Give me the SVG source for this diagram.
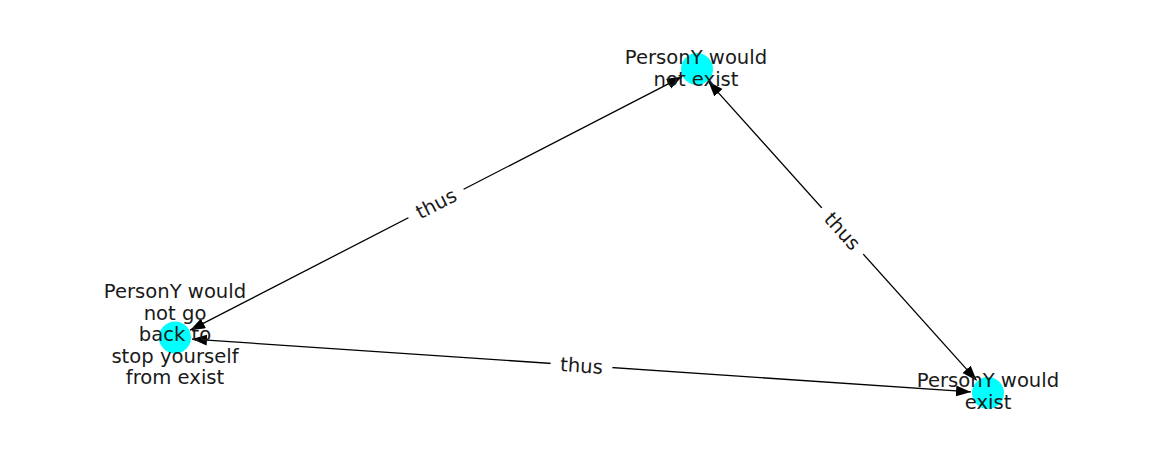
<svg xmlns="http://www.w3.org/2000/svg" width="1162" height="462" viewBox="0 0 1162 462">
  <style>
    .edge { stroke: #000; stroke-width: 1.3; fill: none; marker-start: url(#arrow); marker-end: url(#arrow); }
    .lbl-bg { fill: #fff; stroke: none; }
    .lbl { font-family: "DejaVu Sans", sans-serif; font-size: 19.6px; fill: #1a1a1a; text-anchor: middle; }
    .node circle { fill: #00ffff; }
    .node text { font-family: "DejaVu Sans", sans-serif; font-size: 19.6px; fill: #1a1a1a; text-anchor: middle; }
  </style>
  <defs>
    <marker id="arrow" markerWidth="16" markerHeight="12" refX="15" refY="5.5" orient="auto-start-reverse" markerUnits="userSpaceOnUse">
      <path d="M0,0 L15,5.5 L0,11 Z" fill="#000"/>
    </marker>
  </defs>
  <rect width="1162" height="462" fill="#fff"/>
  <g id="connectors">
    <line class="edge" x1="190.1" y1="330.2" x2="681.9" y2="76.8"/>
    <line class="edge" x1="708.4" y1="81.6" x2="976.6" y2="380.4"/>
    <line class="edge" x1="192.0" y1="339.1" x2="971.0" y2="391.9"/>
    <g transform="translate(436,203.5) rotate(-27.27)">
      <rect class="lbl-bg" x="-31" y="-14" width="62" height="28"/>
      <text class="lbl" x="0" y="7">thus</text>
    </g>
    <g transform="translate(842.5,231) rotate(48.07)">
      <rect class="lbl-bg" x="-31" y="-14" width="62" height="28"/>
      <text class="lbl" x="0" y="7">thus</text>
    </g>
    <g transform="translate(581.5,365.5) rotate(3.87)">
      <rect class="lbl-bg" x="-31" y="-14" width="62" height="28"/>
      <text class="lbl" x="0" y="7">thus</text>
    </g>
  </g>
  <g id="node-top" class="node">
    <circle cx="697" cy="69" r="16"/>
    <text x="696" y="64">PersonY would</text>
    <text x="696" y="85.5">not exist</text>
  </g>
  <g id="node-left" class="node">
    <circle cx="175" cy="337.5" r="16"/>
    <text x="175" y="298">PersonY would</text>
    <text x="175" y="319.5">not go</text>
    <text x="175" y="341">back to</text>
    <text x="175" y="362.5">stop yourself</text>
    <text x="175" y="384">from exist</text>
  </g>
  <g id="node-right" class="node">
    <circle cx="988" cy="393" r="16"/>
    <text x="988" y="387">PersonY would</text>
    <text x="988" y="408.5">exist</text>
  </g>
</svg>
